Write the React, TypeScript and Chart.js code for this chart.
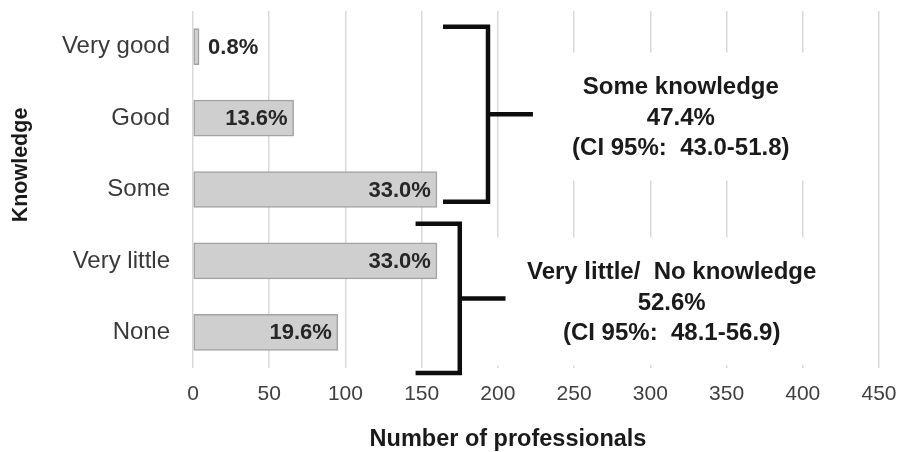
import React, { useEffect, useRef } from "react";
import { Chart, registerables } from "chart.js";

Chart.register(...registerables);

// Self-rated knowledge level of the surveyed professionals
const categories = ["Very good", "Good", "Some", "Very little", "None"];
const professionals = [4, 66, 160, 160, 95];
const xTickValues = [0, 50, 100, 150, 200, 250, 300, 350, 400, 450];

// Grouped summaries shown beside the brackets
const groupTitles = ["Some knowledge", "Very little/  No knowledge"];
const groupMembers = [
  [0, 1, 2],
  [3, 4],
];
const groupCI = ["(CI 95%:  43.0-51.8)", "(CI 95%:  48.1-56.9)"];

const xTitle = "Number of professionals";
const yTitle = "Knowledge";

const FONT = '"Liberation Sans", Arial, Helvetica, sans-serif';

// Bracket geometry: y in category-index units, x in axis units
const bracketLayout = [
  { top: -0.28, bottom: 2.17, arm: 164, spine: 193.5, tip: 223, textX: 320, textY: 1.0 },
  { top: 2.48, bottom: 4.57, arm: 146, spine: 175, tip: 205, textX: 314, textY: 3.59 },
];

const total = professionals.reduce((a, b) => a + b, 0);
const pct = (n: number) => ((n / total) * 100).toFixed(1) + "%";

const annotationPlugin = {
  id: "knowledgeAnnotations",
  afterDatasetsDraw(chart: any) {
    const { ctx } = chart;
    const xs = chart.scales.x;
    const ys = chart.scales.y;
    const meta = chart.getDatasetMeta(0);

    ctx.save();

    // value labels on the bars
    ctx.font = `bold 22px ${FONT}`;
    ctx.fillStyle = "#262626";
    ctx.textBaseline = "middle";
    meta.data.forEach((bar: any, i: number) => {
      const label = pct(professionals[i]);
      const w = ctx.measureText(label).width;
      const barW = bar.x - xs.left;
      if (w + 12 > barW) {
        ctx.textAlign = "left";
        ctx.fillText(label, bar.x + 9, bar.y + 1);
      } else {
        ctx.textAlign = "right";
        ctx.fillText(label, bar.x - 6, bar.y + 1);
      }
    });

    // grouped summaries with brackets
    const lineGap = 30.5;
    bracketLayout.forEach((b, g) => {
      const members = groupMembers[g];
      const sum = members.reduce((a, idx) => a + professionals[idx], 0);
      const lines = [groupTitles[g], pct(sum), groupCI[g]];

      const cx = xs.getPixelForValue(b.textX);
      const cy = ys.getPixelForValue(b.textY);

      ctx.font = `bold 24px ${FONT}`;
      const maxW = Math.max(...lines.map((l) => ctx.measureText(l).width));
      ctx.fillStyle = "#ffffff";
      ctx.fillRect(cx - maxW / 2 - 40, cy - lineGap - 35, maxW + 80, lineGap * 2 + 67);

      ctx.fillStyle = "#1a1a1a";
      ctx.textAlign = "center";
      ctx.textBaseline = "middle";
      lines.forEach((l, k) => ctx.fillText(l, cx, cy + (k - 1) * lineGap));

      const top = ys.getPixelForValue(b.top);
      const bottom = ys.getPixelForValue(b.bottom);
      const arm = xs.getPixelForValue(b.arm);
      const spine = xs.getPixelForValue(b.spine);
      const tip = xs.getPixelForValue(b.tip);
      const mid = (top + bottom) / 2;

      ctx.strokeStyle = "#0d0d0d";
      ctx.lineWidth = 4.5;
      ctx.lineJoin = "miter";
      ctx.lineCap = "butt";
      ctx.beginPath();
      ctx.moveTo(arm, top);
      ctx.lineTo(spine, top);
      ctx.lineTo(spine, bottom);
      ctx.lineTo(arm, bottom);
      ctx.stroke();
      ctx.beginPath();
      ctx.moveTo(spine, mid);
      ctx.lineTo(tip, mid);
      ctx.stroke();
    });

    // axis titles
    ctx.fillStyle = "#1a1a1a";
    ctx.textAlign = "center";
    ctx.textBaseline = "middle";
    ctx.font = `bold 23.5px ${FONT}`;
    ctx.fillText(xTitle, 508, 440);

    ctx.font = `bold 21.5px ${FONT}`;
    ctx.translate(21, 165);
    ctx.rotate(-Math.PI / 2);
    ctx.fillText(yTitle, 0, 0);

    ctx.restore();
  },
};

export default function App() {
  const canvasRef = useRef<HTMLCanvasElement | null>(null);

  useEffect(() => {
    if (!canvasRef.current) return;
    const chart = new Chart(canvasRef.current, {
      type: "bar",
      data: {
        labels: categories,
        datasets: [
          {
            data: professionals,
            backgroundColor: "#cfcfcf",
            borderColor: "#a3a3a3",
            borderWidth: 1.5,
            borderSkipped: false,
            barThickness: 36,
          },
        ],
      },
      options: {
        indexAxis: "y",
        animation: false,
        responsive: false,
        devicePixelRatio: 1,
        layout: { padding: { top: 11, right: 22, left: 0, bottom: 0 } },
        plugins: {
          legend: { display: false },
          tooltip: { enabled: false },
        },
        scales: {
          x: {
            type: "linear",
            position: "bottom",
            min: 0,
            max: 450,
            afterBuildTicks: (scale: any) => {
              scale.ticks = xTickValues.map((v) => ({ value: v }));
            },
            afterFit: (scale: any) => {
              scale.height = 84;
              scale.paddingLeft = 0;
              scale.paddingRight = 0;
            },
            grid: {
              color: "#d9d9d9",
              lineWidth: 1.5,
              drawTicks: false,
            },
            border: { display: false },
            ticks: {
              padding: 14,
              color: "#404040",
              font: { family: FONT, size: 21 },
              maxRotation: 0,
            },
          },
          y: {
            type: "category",
            offset: true,
            afterFit: (scale: any) => {
              scale.width = 193;
              scale.paddingTop = 0;
              scale.paddingBottom = 0;
            },
            grid: { display: false, drawTicks: false },
            border: { display: false },
            ticks: {
              padding: 23,
              color: "#3a3a3a",
              font: { family: FONT, size: 24 },
            },
          },
        },
      },
      plugins: [annotationPlugin],
    } as any);
    return () => chart.destroy();
  }, []);

  return (
    <div style={{ position: "absolute", left: 0, top: 0, width: 901, height: 452, background: "#ffffff" }}>
      <canvas ref={canvasRef} width={901} height={452} style={{ display: "block" }} />
    </div>
  );
}
